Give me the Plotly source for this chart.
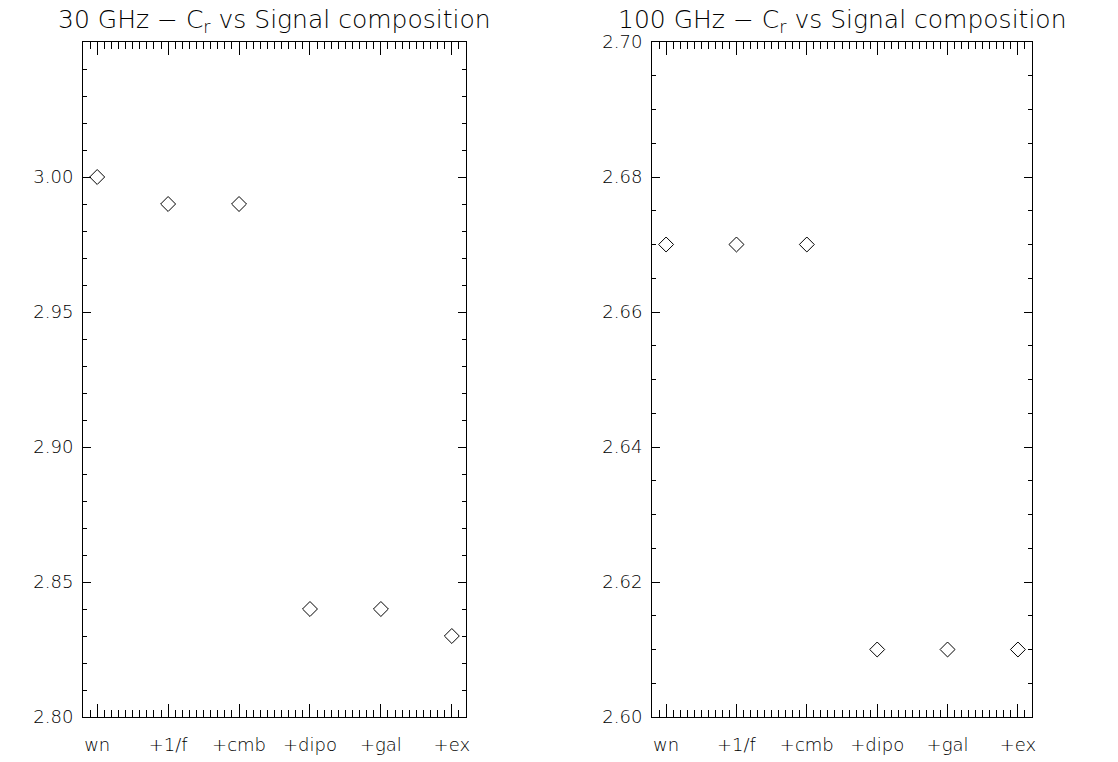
import plotly.graph_objects as go

categories = ["wn", "+1/f", "+cmb", "+dipo", "+gal", "+ex"]
positions = [0, 1, 2, 3, 4, 5]
cr_30ghz = [3.00, 2.99, 2.99, 2.84, 2.84, 2.83]
cr_100ghz = [2.67, 2.67, 2.67, 2.61, 2.61, 2.61]
titles = ["30 GHz \u2212 C<sub>r</sub> vs Signal composition",
          "100 GHz \u2212 C<sub>r</sub> vs Signal composition"]
yticks_30 = [2.80, 2.85, 2.90, 2.95, 3.00]
yticks_100 = [2.60, 2.62, 2.64, 2.66, 2.68, 2.70]

FONT = "DejaVu Sans"
fig = go.Figure()

marker = dict(symbol="diamond-open", size=11.5, color="black", line=dict(width=1, color="black"))
fig.add_trace(go.Scatter(x=positions, y=cr_30ghz, mode="markers", marker=marker,
                         xaxis="x", yaxis="y", showlegend=False))
fig.add_trace(go.Scatter(x=positions, y=cr_100ghz, mode="markers", marker=marker,
                         xaxis="x2", yaxis="y2", showlegend=False))

tickfont = dict(family=FONT, size=18, color="black", weight=200)

def xaxis(domain, anchor):
    return dict(domain=domain, anchor=anchor, range=[-0.2, 5.2], automargin=False,
                tickmode="array", tickvals=positions, ticktext=categories,
                ticks="inside", ticklen=13, tickwidth=1, tickcolor="black",
                minor=dict(dtick=0.1, tick0=0, ticks="inside", ticklen=7, tickcolor="black", tickwidth=1),
                showline=True, linecolor="black", linewidth=1, mirror="ticks",
                showgrid=False, zeroline=False, tickfont=tickfont, ticklabelstandoff=11)

def yaxis(domain, anchor, rng, tickvals, mdt):
    return dict(domain=domain, anchor=anchor, range=rng, automargin=False,
                tickmode="array", tickvals=tickvals, tickformat=".2f",
                ticks="inside", ticklen=8, tickwidth=1, tickcolor="black",
                minor=dict(dtick=mdt, tick0=rng[0], ticks="inside", ticklen=4, tickcolor="black", tickwidth=1),
                showline=True, linecolor="black", linewidth=1, mirror="ticks",
                showgrid=False, zeroline=False, tickfont=tickfont, ticklabelstandoff=5)

d1 = [0, 0.4036]
d2 = [0.5996, 1]
fig.update_layout(
    width=1118, height=762,
    margin=dict(l=83, r=86, t=42, b=45),
    plot_bgcolor="white", paper_bgcolor="white",
    xaxis=xaxis(d1, "y"),
    yaxis=yaxis([0, 1], "x", [2.80, 3.05], yticks_30, 0.01),
    xaxis2=xaxis(d2, "y2"),
    yaxis2=yaxis([0, 1], "x2", [2.60, 2.70], yticks_100, 0.005),
)

for dom, t in zip([d1, d2], titles):
    fig.add_annotation(text=t, x=(dom[0] + dom[1]) / 2, y=1, xref="paper", yref="paper",
                       yanchor="bottom", xanchor="center", yshift=3, showarrow=False,
                       font=dict(family=FONT, size=25, color="black", weight=200))

fig.write_html("out.html")
